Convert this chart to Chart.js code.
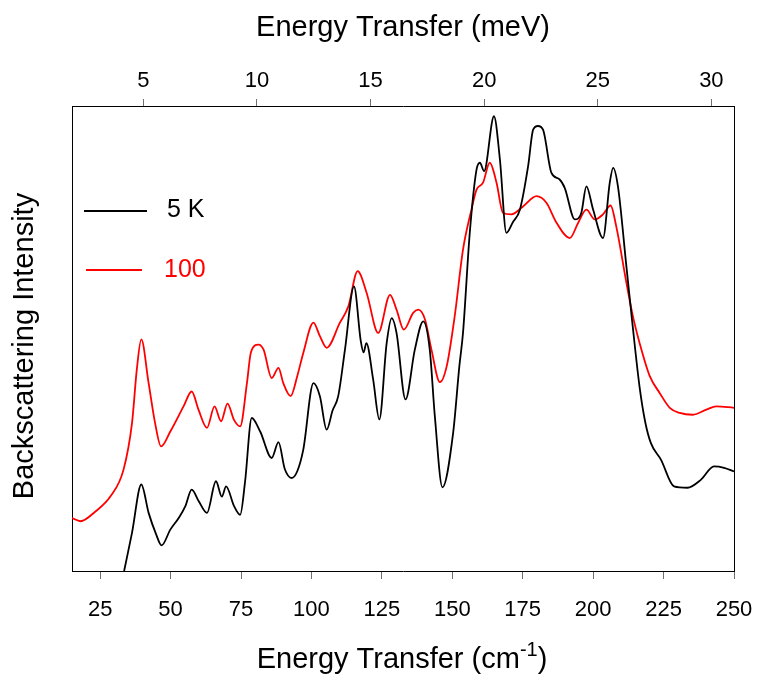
<!DOCTYPE html>
<html>
<head>
<meta charset="utf-8">
<script src="https://cdn.jsdelivr.net/npm/chart.js@4.4.0/dist/chart.umd.min.js"></script>
<style>
  html, body { margin: 0; padding: 0; background: #fff; }
</style>
</head>
<body>
<canvas id="chart" width="757" height="674"></canvas>
<script>
// 1 meV = 8.0655 cm-1
const CM_PER_MEV = 8.0655;
const X_MIN = 15, X_MAX = 250;

const cmTicks = [25, 50, 75, 100, 125, 150, 175, 200, 225, 250];
const mevTicks = [5, 10, 15, 20, 25, 30];

const seriesLabels = ['5 K', '100'];
const seriesColors = ['#000000', '#ff0000'];

// 5 K spectrum (cm-1, arb. units)
const wn5K = [33.5, 36.3, 39.6, 42.2, 44.8, 46.8, 49.9, 53, 55.2, 57.5, 60, 62.9, 66.1, 68.2, 69.7, 72.5, 74.7,
  76.4, 78.8, 81.8, 85.9, 88.3, 90.5, 93, 95, 97.1, 100.7, 103, 105.4, 107.5, 109.5, 111.9, 115.1, 117.5,
  118.5, 119.5, 121.9, 124.1, 126.7, 128.5, 130.2, 133.4, 136.7, 139.7, 142, 143.8, 146.5, 150.3, 152.5,
  153.8, 156.2, 158.6, 159.8, 161.3, 164.8, 166.9, 169.2, 171.5, 174, 176.9, 178.7, 180.4, 182.2, 185.2,
  188.1, 189.9, 193.5, 195.8, 197.6, 200, 203.5, 205.9, 207.1, 208.8, 211.8, 213.8, 216.5, 218.5, 220.5,
  224.1, 228.7, 233.5, 238.2, 242.9, 246.5, 250];
const int5K = [0, 8.2, 18.6, 12.5, 8, 5.5, 8.9, 11.5, 13.9, 17.5, 15, 12.5, 19.3, 16, 18.2, 14, 12.1,
  19, 32.9, 30, 24.3, 27.7, 22, 20, 21.5, 26.1, 40.4, 37.6, 30.4, 34.5, 37.6, 47.6, 61.2, 49.5,
  47, 49, 41.2, 32.6, 49, 54.4, 51.2, 36.9, 47.6, 53.7, 47.6, 33.3, 18, 29.7, 44,
  51.2, 72.7, 86.3, 87.8, 86, 97.8, 88.5, 72.7, 75, 77.7, 87, 94.9, 95.7, 94.9, 85.6,
  84.2, 82.4, 75.6, 77, 82.7, 77.7, 71.6, 83.5, 86.7, 82.7, 65.5, 54, 39.5, 32, 27.5,
  23.9, 18.2, 17.9, 19.6, 22.5, 22.2, 21.4];

// 100 K spectrum
const wn100K = [15, 18, 23.3, 28.6, 33.3, 36.3, 38, 39.6, 42.2, 44.5, 46.6, 49.9, 54.6, 57.5, 59.9, 62.9,
  65.6, 67.9, 70.2, 72.5, 74.7, 77.1, 78.5, 81.2, 83, 85.9, 88.3, 90, 92.6, 95, 97.1, 100.7, 103, 105.4,
  110.1, 113.1, 116.4, 119.6, 123.7, 127.9, 130.2, 132.8, 136.1, 137.9, 140.3, 142.6, 145.6, 148, 150.9,
  153.8, 156.8, 158.6, 160.9, 163.3, 165.7, 168, 171, 175.1, 179.9, 183.4, 187, 191.7, 194.7, 197.6,
  200.6, 203.5, 206.2, 208.2, 211.8, 214.1, 216.5, 220.1, 223.6, 227.2, 230.7, 235.4, 240.2, 243.7, 250];
const int100K = [11.4, 10.7, 12.8, 16, 21.8, 31.8, 43.3, 49.8, 40.4, 31.8, 26.8, 30, 35.4, 38.6, 34.7, 30.8,
  35.4, 32.2, 36, 32.5, 31.1, 40.4, 47, 48.7, 47.6, 41.5, 43.7, 40.4, 37.6, 42, 46.9, 53.4, 50.5, 48,
  53.4, 56.9, 64.5, 59.8, 51.2, 59.4, 56.2, 51.9, 55.5, 56.2, 54.1, 47.6, 40.6, 44, 55,
  69.1, 77.7, 82, 83.5, 87.8, 83.5, 77, 76.7, 78.4, 80.6, 79.2, 74.9, 71.6, 74.9, 77.7,
  75.6, 76.7, 78.6, 74.1, 62, 54.8, 49, 41.9, 38.3, 35.1, 34, 33.6, 34.7, 35.4, 35.1];

const FONT = "'Liberation Sans', Arial, Helvetica, sans-serif";

function toPoints(xs, ys) {
  return xs.map((x, i) => ({x: x, y: ys[i]}));
}

// titles with superscript + legend drawn inside the plot
const extras = {
  id: 'extras',
  afterDraw(chart) {
    const ctx = chart.ctx;
    ctx.save();
    ctx.fillStyle = '#000';

    // left title
    ctx.save();
    ctx.translate(25, 346);
    ctx.rotate(-Math.PI / 2);
    ctx.font = '29px ' + FONT;
    ctx.textAlign = 'center';
    ctx.textBaseline = 'middle';
    ctx.fillText('Backscattering Intensity', 0, 0);
    ctx.restore();

    // bottom title: Energy Transfer (cm^-1)
    const main = 'Energy Transfer (cm';
    ctx.textBaseline = 'alphabetic';
    ctx.textAlign = 'left';
    ctx.font = '29px ' + FONT;
    const wMain = ctx.measureText(main).width;
    const wClose = ctx.measureText(')').width;
    ctx.font = '20px ' + FONT;
    const wSup = ctx.measureText('-1').width;
    let x = 402 - (wMain + wSup + wClose) / 2;
    const base = 668;
    ctx.font = '29px ' + FONT;
    ctx.fillText(main, x, base);
    x += wMain;
    ctx.font = '20px ' + FONT;
    ctx.fillText('-1', x, base - 12);
    x += wSup;
    ctx.font = '29px ' + FONT;
    ctx.fillText(')', x, base);

    // legend
    const rows = [[84, 147, 211, 167, 210], [86, 142, 270, 164, 270]];
    ctx.font = '25px ' + FONT;
    ctx.textBaseline = 'middle';
    rows.forEach((r, i) => {
      ctx.strokeStyle = seriesColors[i];
      ctx.lineWidth = 2;
      ctx.beginPath();
      ctx.moveTo(r[0], r[2]);
      ctx.lineTo(r[1], r[2]);
      ctx.stroke();
      ctx.fillStyle = seriesColors[i];
      ctx.fillText(seriesLabels[i], r[3], r[4]);
    });
    ctx.restore();
  }
};

const tickGrid = (len) => ({
  drawOnChartArea: false,
  drawTicks: true,
  tickLength: len,
  color: '#707070',
  lineWidth: 1
});

// fixed axis box, no side padding from the end labels
const fixHeight = (h) => (s) => {
  s.height = h;
  s.paddingLeft = 0;
  s.paddingRight = 0;
};

new Chart(document.getElementById('chart'), {
  type: 'line',
  data: {
    datasets: [
      {
        label: seriesLabels[0],
        data: toPoints(wn5K, int5K),
        borderColor: seriesColors[0],
        borderWidth: 1.8,
        pointRadius: 0,
        cubicInterpolationMode: 'monotone',
        xAxisID: 'x',
        yAxisID: 'y'
      },
      {
        label: seriesLabels[1],
        data: toPoints(wn100K, int100K),
        borderColor: seriesColors[1],
        borderWidth: 1.8,
        pointRadius: 0,
        cubicInterpolationMode: 'monotone',
        xAxisID: 'x',
        yAxisID: 'y'
      }
    ]
  },
  options: {
    responsive: false,
    animation: false,
    devicePixelRatio: 1,
    layout: { padding: 0, autoPadding: false },
    plugins: {
      legend: { display: false },
      tooltip: { enabled: false }
    },
    scales: {
      x: {
        type: 'linear',
        position: 'bottom',
        min: X_MIN,
        max: X_MAX,
        afterBuildTicks: s => { s.ticks = cmTicks.map(v => ({value: v})); },
        afterFit: fixHeight(103),
        ticks: { color: '#000', font: { family: FONT, size: 22 }, padding: 18, maxRotation: 0, autoSkip: false },
        grid: tickGrid(8),
        border: { color: '#000', width: 1 }
      },
      x2: {
        type: 'linear',
        position: 'top',
        min: X_MIN / CM_PER_MEV,
        max: X_MAX / CM_PER_MEV,
        afterBuildTicks: s => { s.ticks = mevTicks.map(v => ({value: v})); },
        afterFit: fixHeight(106),
        ticks: { color: '#000', font: { family: FONT, size: 22 }, padding: 5, maxRotation: 0, autoSkip: false },
        grid: tickGrid(7),
        border: { color: '#000', width: 1 },
        title: { display: true, text: 'Energy Transfer (meV)', color: '#000', font: { family: FONT, size: 29 }, padding: { top: 11, bottom: 0 } }
      },
      y: {
        position: 'left',
        min: 0,
        max: 100,
        afterFit: s => { s.width = 72; },
        ticks: { display: false },
        grid: { drawOnChartArea: false, drawTicks: false },
        border: { color: '#000', width: 1 }
      },
      y2: {
        position: 'right',
        min: 0,
        max: 100,
        afterFit: s => { s.width = 23; },
        ticks: { display: false },
        grid: { drawOnChartArea: false, drawTicks: false },
        border: { color: '#000', width: 1 }
      }
    }
  },
  plugins: [extras]
});
</script>
</body>
</html>
